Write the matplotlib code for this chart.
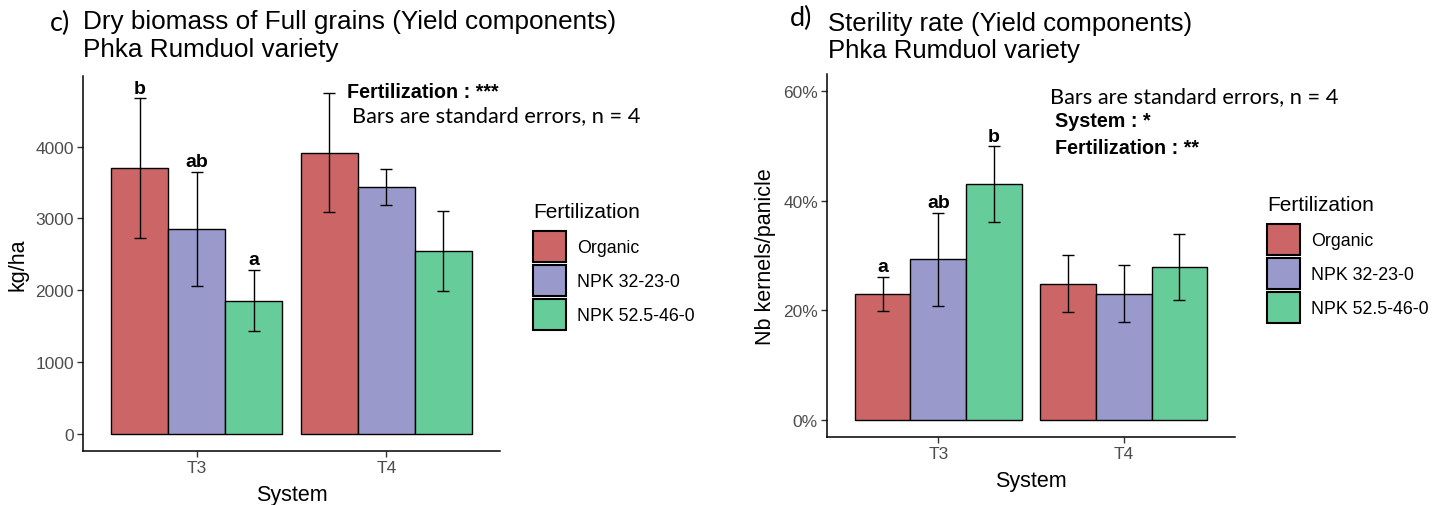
import numpy as np
import matplotlib.pyplot as plt
from matplotlib.ticker import FuncFormatter

# data
systems = ['T3', 'T4']
fertilization = ['Organic', 'NPK 32-23-0', 'NPK 52.5-46-0']
colors = ['#CC6666', '#9999CC', '#66CC99']

biomass_mean = [[3702, 3917], [2856, 3442], [1856, 2549]]
biomass_se = [[972, 830], [793, 253], [426, 553]]
biomass_letters = [['b', ''], ['ab', ''], ['a', '']]

sterility_mean = [[0.230, 0.248], [0.293, 0.230], [0.430, 0.279]]
sterility_se = [[0.031, 0.052], [0.085, 0.052], [0.069, 0.060]]
sterility_letters = [['a', ''], ['ab', ''], ['b', '']]

W, H = 1440, 506
plt.rcParams['font.family'] = ['Liberation Sans', 'DejaVu Sans']


def px(x, y):
    # figure pixel (from top left) -> figure fraction
    return x / W, 1 - y / H


def draw_panel(ax, means, ses, letters, ylim, yticks, ylabel, fmt=None):
    x = np.arange(1, len(systems) + 1)
    width = 0.3
    for i in range(len(fertilization)):
        xpos = x + (i - 1) * width
        ax.bar(xpos, means[i], width, color=colors[i], edgecolor='black',
               linewidth=1.0, label=fertilization[i], zorder=2)
        ax.errorbar(xpos, means[i], yerr=ses[i], fmt='none', ecolor='black',
                    elinewidth=1.0, capsize=4.5, capthick=1.0, zorder=3)
        for j in range(len(systems)):
            if letters[i][j]:
                ax.annotate(letters[i][j], (xpos[j], means[i][j] + ses[i][j]),
                            xytext=(0, 4), textcoords='offset points',
                            ha='center', va='baseline', fontsize=14,
                            fontweight='bold')
    ax.set_xlim(0.4, 2.6)
    ax.set_ylim(*ylim)
    ax.set_xticks(x)
    ax.set_xticklabels(systems)
    ax.set_yticks(yticks)
    if fmt is not None:
        ax.yaxis.set_major_formatter(FuncFormatter(fmt))
    for s in ['top', 'right']:
        ax.spines[s].set_visible(False)
    for s in ['left', 'bottom']:
        ax.spines[s].set_linewidth(1.1)
        ax.spines[s].set_color('black')
    ax.tick_params(length=4, width=1.0, color='#333333', labelcolor='#4D4D4D',
                   labelsize=12.5, pad=2.5)
    ax.set_xlabel('System', fontsize=15.5, labelpad=6.5)
    ax.set_ylabel(ylabel, fontsize=15.5, labelpad=5)


def add_legend(fig, ax, x, y):
    leg = fig.legend(*ax.get_legend_handles_labels(), loc='upper left',
                     bbox_to_anchor=px(x, y), frameon=False, fontsize=12.8,
                     title='Fertilization', title_fontsize=15,
                     handlelength=1.85, handleheight=2.3, labelspacing=0.17,
                     handletextpad=0.65, borderpad=0, borderaxespad=0,
                     alignment='left')
    # a bit more room between the title and the keys
    leg._legend_box.sep = 7
    for p in leg.get_patches():
        p.set_linewidth(1.5)
    return leg


fig = plt.figure(figsize=(W / 100, H / 100), dpi=100)

# c) dry biomass
ax1 = fig.add_axes([83 / W, 1 - 452 / H, 417 / W, 375 / H])
draw_panel(ax1, biomass_mean, biomass_se, biomass_letters, (-240, 4985),
           [0, 1000, 2000, 3000, 4000], 'kg/ha')
ax1.text(1.795, 4772, 'Fertilization : ***', fontsize=14.2, fontweight='bold',
         ha='left', va='center')
ax1.text(1.817, 4437, 'Bars are standard errors, n = 4', fontsize=15.7,
         family=['Lato', 'DejaVu Sans'], ha='left', va='center')
add_legend(fig, ax1, 533, 203)

# d) sterility rate
ax2 = fig.add_axes([827 / W, 1 - 437.7 / H, 408 / W, 362.7 / H])
draw_panel(ax2, sterility_mean, sterility_se, sterility_letters, (-0.031, 0.631),
           [0, 0.2, 0.4, 0.6], 'Nb kernels/panicle',
           fmt=lambda v, p: '{:.0f}%'.format(v * 100))
ax2.text(1.603, 0.591, 'Bars are standard errors, n = 4', fontsize=15.7,
         family=['Lato', 'DejaVu Sans'], ha='left', va='center')
ax2.text(1.63, 0.547, 'System : *', fontsize=14.2, fontweight='bold',
         ha='left', va='center')
ax2.text(1.63, 0.496, 'Fertilization : **', fontsize=14.2, fontweight='bold',
         ha='left', va='center')
add_legend(fig, ax2, 1267, 196)

# titles
fig.text(*px(83, 22), 'Dry biomass of Full grains (Yield components)',
         fontsize=18.8, va='center', ha='left')
fig.text(*px(83, 50), 'Phka Rumduol variety', fontsize=18.8, va='center', ha='left')
fig.text(*px(50, 23), 'c)', fontsize=19.5, va='center', ha='left',
         family=['Lato', 'DejaVu Sans'])
fig.text(*px(828, 24), 'Sterility rate (Yield components)', fontsize=18.5,
         va='center', ha='left')
fig.text(*px(828, 51), 'Phka Rumduol variety', fontsize=18.5, va='center', ha='left')
fig.text(*px(790, 18), 'd)', fontsize=19.5, va='center', ha='left',
         family=['Lato', 'DejaVu Sans'])

fig.savefig('out.png', dpi=100)
